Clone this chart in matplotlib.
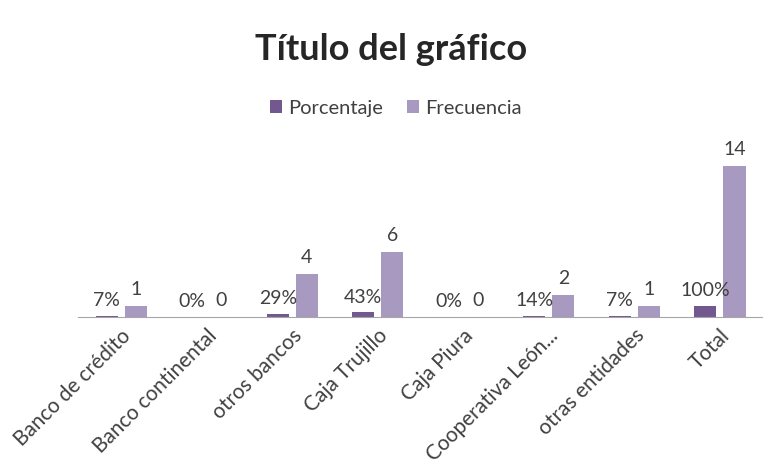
import numpy as np
import matplotlib.pyplot as plt

categorias = ["Banco de crédito", "Banco continental", "otros bancos", "Caja Trujillo",
              "Caja Piura", "Cooperativa León...", "otras entidades", "Total"]
porcentaje = [0.07, 0.00, 0.29, 0.43, 0.00, 0.14, 0.07, 1.00]
frecuencia = [1, 0, 4, 6, 0, 2, 1, 14]

plt.rcParams['font.family'] = ['Lato', 'DejaVu Sans']

fig = plt.figure(figsize=(7.73, 4.67), dpi=100)
ax = fig.add_axes([0.101, 0.321, 0.885, 0.37])

x = np.arange(len(categorias))
w = 0.26
c_pct = '#72588f'
c_freq = '#a899c0'

b1 = ax.bar(x - 0.165, porcentaje, w, color=c_pct, label='Porcentaje')
b2 = ax.bar(x + 0.175, frecuencia, w, color=c_freq, label='Frecuencia')

for xi, v in zip(x, porcentaje):
    ax.annotate(f"{v:.0%}", (xi - 0.165, v), xytext=(0, 5), textcoords='offset points',
                ha='center', va='bottom', fontsize=14, color='#404040')
for xi, v in zip(x, frecuencia):
    ax.annotate(f"{v}", (xi + 0.175, v), xytext=(0, 6), textcoords='offset points',
                ha='center', va='bottom', fontsize=14, color='#404040')

ax.set_xlim(-0.5, len(categorias) - 0.5)
ax.set_ylim(0, 16)
ax.set_xticks(x)
ax.set_xticklabels(categorias, rotation=45, ha='right', rotation_mode='anchor',
                   fontsize=15, color='#404040')
ax.tick_params(axis='x', length=0, pad=6)
ax.set_yticks([])
for s in ['top', 'right', 'left']:
    ax.spines[s].set_visible(False)
ax.spines['bottom'].set_color('#a6a6a6')

fig.text(0.506, 0.893, "Título del gráfico", ha='center', va='center',
         fontsize=26, fontweight='bold', color='#262626')
fig.legend(handles=[b1, b2], loc='center', bbox_to_anchor=(0.512, 0.768), ncol=2,
           frameon=False, fontsize=14.5, handlelength=0.6, handleheight=0.6,
           handletextpad=0.3, columnspacing=1.2, labelcolor='#404040')

fig.savefig('out.png', dpi=100)
